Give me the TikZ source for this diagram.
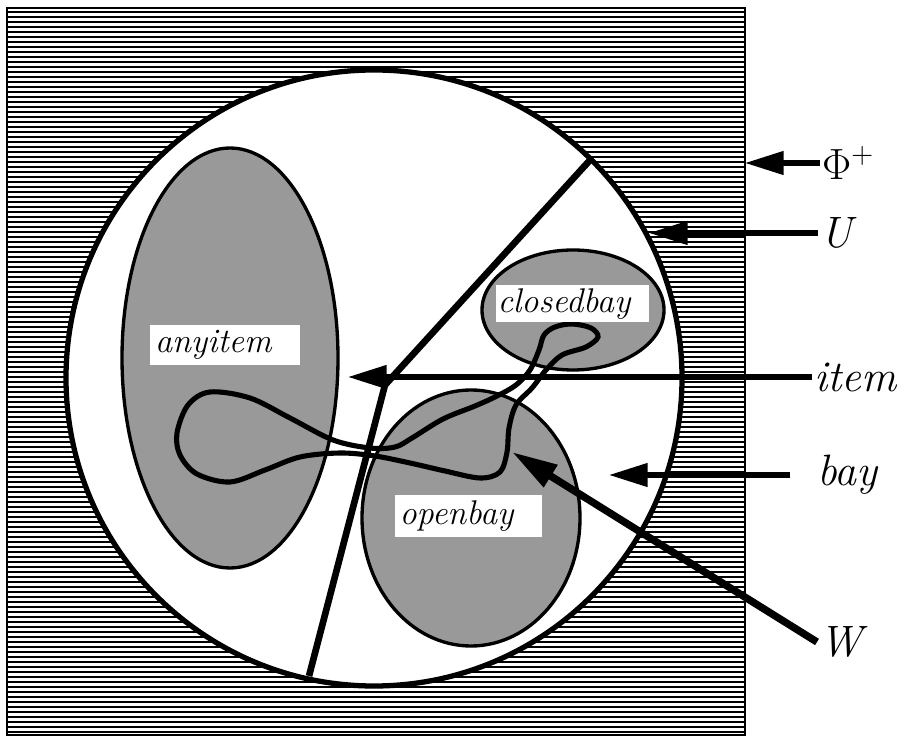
\documentclass[tikz,border=0pt]{standalone}
\usetikzlibrary{arrows.meta}
\begin{document}
\begin{tikzpicture}[
    setname/.style={fill=white, inner ysep=0pt, inner xsep=0.1cm, minimum height=0.8cm, align=left,
                    font=\fontsize{19.5}{22}\selectfont\itshape},
    tag/.style={anchor=west, inner sep=1pt, font=\fontsize{25}{28}\selectfont\itshape},
    pointer/.style={line width=2.9pt, -{Triangle[length=22pt, width=13pt]}},
    blob/.style={fill=black!40, draw=black, line width=1.9pt}
]
    \useasboundingbox (0,0) rectangle (18.14,14.84);

    % Phi^+ (hatched square)
    \foreach \y in {0.2,0.3,...,14.65}
        \draw[line width=0.056cm] (0.14,\y) -- (14.9,\y);
    \draw[line width=1.4pt] (0.14,0.14) rectangle (14.9,14.68);

    % U
    \filldraw[fill=white, line width=3pt] (7.48,7.28) circle (6.16);

    % anyitem, closedbay, openbay
    \filldraw[blob] (4.6,7.68) ellipse (2.16 and 4.2);
    \filldraw[blob] (11.46,8.64) ellipse (1.82 and 1.2);
    \filldraw[blob] (9.42,4.48) ellipse (2.18 and 2.56);

    % item | bay
    \draw[line width=3.8pt, line join=miter] (6.18,1.32) -- (7.7,7.14) -- (11.82,11.66);

    % W
    \draw[line width=2.9pt] plot[smooth cycle, tension=0.55] coordinates {
        (3.54,6.18) (3.76,6.74) (4.20,7.00) (5.00,6.88) (5.80,6.48) (6.66,6.04)
        (7.40,5.88) (7.90,5.90) (8.24,6.08) (8.86,6.46) (9.50,6.72) (9.94,6.92)
        (10.32,7.14) (10.60,7.44) (10.78,7.84) (10.88,8.14) (11.10,8.30) (11.44,8.36)
        (11.82,8.28) (11.96,8.10) (11.72,7.90) (11.24,7.74) (10.92,7.44) (10.64,7.08)
        (10.32,6.74) (10.18,6.28) (10.14,5.80) (10.00,5.40) (9.60,5.28) (8.90,5.42)
        (8.20,5.58) (7.50,5.72) (6.80,5.78) (6.00,5.70) (5.30,5.44) (4.60,5.20)
        (3.94,5.36) (3.60,5.74)};

    % set names
    \node[setname, text width=2.8cm] (anyitem) at (4.5,7.94) {anyitem};
    \node[setname, inner xsep=0.04cm, text width=2.98cm, minimum height=0.74cm] (closedbay) at (11.44,8.76) {closedbay};
    \node[setname, text width=2.74cm, minimum height=0.84cm] (openbay) at (9.36,4.52) {openbay};

    % pointers
    \node[tag] (phi) at (16.4,11.58) {$\Phi^+$};
    \node[tag] (u) at (16.36,10.18) {U};
    \node[tag] (item) at (16.24,7.30) {item};
    \node[tag] (bay) at (16.3,5.34) {bay};
    \node[tag] (w) at (16.34,2.0) {W};
    \coordinate (phiT) at (14.9,11.58);
    \coordinate (uT) at (12.98,10.18);
    \coordinate (itemT) at (6.96,7.30);
    \coordinate (bayT) at (12.18,5.34);
    \coordinate (wT) at (10.24,5.8);
    \draw[pointer] (phi.west) -- (phiT);
    \draw[pointer] (u.west) -- (uT);
    \draw[pointer] (item.west) -- (itemT);
    \draw[pointer, shorten <=0.5cm] (bay.west) -- (bayT);
    \draw[pointer, line width=4.2pt, -{Triangle[length=26pt, width=14pt]}] (w.west) -- (wT);
\end{tikzpicture}
\end{document}
